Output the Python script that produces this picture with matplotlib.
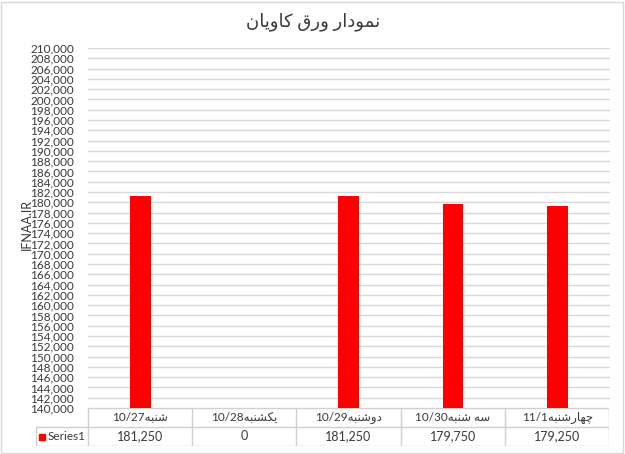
import matplotlib
matplotlib.use("Agg")
import matplotlib.pyplot as plt
from matplotlib.patches import Rectangle

# data
days = ["شنبه", "یکشنبه", "دوشنبه", "سه شنبه", "چهارشنبه"]
dates = ["10/27", "10/28", "10/29", "10/30", "11/1"]
values = [181250, 0, 181250, 179750, 179250]
series_name = "Series1"
title = "نمودار ورق کاویان"
ylabel = "IFNAA.IR"
ymin, ymax, ystep = 140000, 210000, 2000

# tiny persian shaper (matplotlib has no shaping / bidi)
FORMS = {
    "ن": "\uFEE5\uFEE6\uFEE7\uFEE8", "م": "\uFEE1\uFEE2\uFEE3\uFEE4",
    "ق": "\uFED5\uFED6\uFED7\uFED8", "ک": "\uFB8E\uFB8F\uFB90\uFB91",
    "ی": "\uFBFC\uFBFD\uFBFE\uFBFF", "ش": "\uFEB5\uFEB6\uFEB7\uFEB8",
    "ب": "\uFE8F\uFE90\uFE91\uFE92", "ه": "\uFEE9\uFEEA\uFEEB\uFEEC",
    "س": "\uFEB1\uFEB2\uFEB3\uFEB4", "چ": "\uFB7A\uFB7B\uFB7C\uFB7D",
    "و": "\uFEED\uFEEE", "د": "\uFEA9\uFEAA",
    "ا": "\uFE8D\uFE8E", "ر": "\uFEAD\uFEAE",
}


def rtl(s):
    out = []
    for i, c in enumerate(s):
        if c not in FORMS:
            out.append(c)
            continue
        prev = s[i - 1] if i > 0 else ""
        nxt = s[i + 1] if i + 1 < len(s) else ""
        jp = prev in FORMS and len(FORMS[prev]) == 4
        jn = len(FORMS[c]) == 4 and nxt in FORMS
        f = FORMS[c]
        if jp and jn:
            out.append(f[3])
        elif jp:
            out.append(f[1])
        elif jn:
            out.append(f[2])
        else:
            out.append(f[0])
    return "".join(out[::-1])


W, H = 625, 454
fig = plt.figure(figsize=(W / 100, H / 100), dpi=100)
fam = ["Lato", "DejaVu Sans"]
txt = "#3a3a3a"

fig.patches.append(Rectangle((1 / W, 1 / H), 1 - 3 / W, 1 - 3 / H, transform=fig.transFigure,
                             fill=False, edgecolor="#d9d9d9", linewidth=1))

# main plot
ax = fig.add_axes([88 / W, (H - 408) / H, (609.5 - 88) / W, 360 / H])
x = list(range(len(values)))
ax.bar(x, values, width=0.2, color="#ff0000", zorder=3)
ax.set_xlim(-0.5, len(values) - 0.5)
ax.set_ylim(ymin, ymax)
yt = list(range(ymin, ymax + 1, ystep))
ax.set_yticks(yt)
ax.set_yticklabels([f"{v:,}" for v in yt], family=fam, fontsize=8.5, color=txt)
ax.tick_params(axis="y", length=0, pad=10)
ax.set_xticks([])
ax.grid(axis="y", color="#d9d9d9", linewidth=1, zorder=0)
for s in ax.spines.values():
    s.set_visible(False)

fig.text(27 / W, 1 - 225 / H, ylabel, rotation=90, ha="center", va="center",
         family=fam, fontsize=9, color=txt)
fig.text(313 / W, 1 - 22 / H, rtl(title), ha="center", va="center",
         family=fam, fontsize=13, color=txt)

# data table
key_w = (87.5 - 35.7) / 104.3
ax_t = fig.add_axes([35.7 / W, (H - 446) / H, (609.5 - 35.7) / W, 38 / H])
ax_t.set_xlim(-0.5 - key_w, len(values) - 0.5)
ax_t.set_ylim(0, 2)
ax_t.axis("off")
lc = dict(color="#d0d0d0", linewidth=1)
left = -0.5 - key_w
right = len(values) - 0.5
ax_t.plot([left, right], [0, 0], **lc)
ax_t.plot([left, right], [1, 1], **lc)
ax_t.plot([-0.5, right], [2, 2], **lc)
ax_t.plot([left, left], [0, 1], **lc)
for i in range(len(values) + 1):
    ax_t.plot([i - 0.5, i - 0.5], [0, 2], **lc)
for i, (d, dt, v) in enumerate(zip(days, dates, values)):
    ax_t.text(i, 1.5, dt + rtl(d), ha="center", va="center", family=fam, fontsize=8.5, color=txt)
    ax_t.text(i, 0.5, f"{v:,}", ha="center", va="center", family=fam, fontsize=9, color=txt)
ax_t.scatter([left + 6.5 / 104.3], [0.5], marker="s", s=20, color="#ff0000")
ax_t.text(left + 12 / 104.3, 0.5, series_name, ha="left", va="center", family=fam, fontsize=8.5, color=txt)

fig.savefig("out.png", dpi=100)
